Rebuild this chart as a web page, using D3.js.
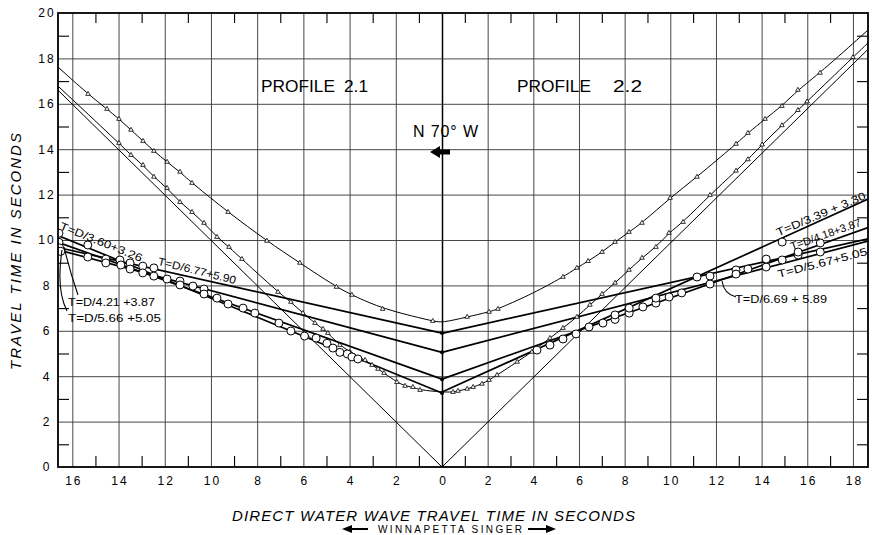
<!DOCTYPE html>
<html><head><meta charset="utf-8">
<script src="https://cdn.jsdelivr.net/npm/d3@7"></script>
<style>
html,body{margin:0;padding:0;background:#fff;}
svg{display:block;}
text{font-family:"Liberation Sans",Arial,sans-serif;fill:#000;}
</style></head><body>
<svg id="chart" width="872" height="535"></svg>
<script>
// ---------------- DATA ----------------
const xMajorTicks = [-16,-14,-12,-10,-8,-6,-4,-2,0,2,4,6,8,10,12,14,16,18];
const xMinorTicks = [-15,-13,-11,-9,-7,-5,-3,-1,1,3,5,7,9,11,13,15,17];
const yMajorTicks = [0,2,4,6,8,10,12,14,16,18,20];
const yMinorTicks = [1,3,5,7,9,11,13,15,17,19];

// direct water wave (T = direct time)
const directWave = [[-16.62,16.6],[0,0],[18.66,18.4]];

// reflection curve A (upper hyperbola) – picked points (triangles)
const reflAPicks = [
  [-15.32,16.43],[-14.50,15.77],[-13.98,15.33],[-13.46,14.85],[-12.94,14.36],[-12.47,13.92],
  [-11.90,13.44],[-11.34,13.00],[-10.82,12.51],[-9.26,11.23],[-7.58,9.96],[-6.15,8.99],
  [-4.57,7.93],[-3.90,7.58],[-2.57,6.96],[-0.40,6.43],
  [1.10,6.61],[2.06,6.83],[2.45,6.96],[5.30,8.37],[5.91,8.77],[6.40,9.07],[7.01,9.47],
  [7.58,9.91],[8.19,10.35],[8.76,10.75],[9.99,11.85],[11.17,12.78],[12.88,14.23],[13.40,14.71],
  [14.15,15.33],[14.89,15.90],[15.59,16.61],[16.56,17.36]
];
const reflATrace = [[-16.62,17.62],[0,6.35],[4.0,7.65],[18.66,19.25]];

// reflection curve B (lower hyperbola)
const reflBPicks = [
  [-13.98,14.27],[-13.46,13.74],[-12.94,13.30],[-12.47,12.78],[-11.90,12.29],[-11.34,11.67],
  [-10.82,11.23],[-10.30,10.75],[-9.74,10.13],[-9.22,9.69],[-8.66,9.16],[-7.10,7.71],[-6.54,7.27],
  [-6.02,6.78],[-5.50,6.34],[-5.15,6.08],[-4.94,5.90],[-4.42,5.37],[-3.98,5.07],[-3.33,4.71],
  [-3.03,4.49],[-2.77,4.32],[-2.51,4.14],[-1.95,3.74],[-1.60,3.57],[-1.26,3.52],[-0.95,3.39],
  [0.48,3.30],[0.70,3.35],[1.10,3.44],[1.36,3.52],[1.75,3.66],[2.06,3.83],[2.41,4.05],[3.29,4.63],
  [3.94,5.07],[4.73,5.68],[5.30,6.12],[5.91,6.61],[6.48,7.14],[7.01,7.62],[7.58,8.11],[8.19,8.68],
  [8.76,9.21],[9.37,9.69],[9.94,10.31],[10.56,10.79],[11.74,11.98],[12.88,13.05],[13.40,13.55],
  [14.02,14.2],[14.89,15.05],[15.59,15.72],[15.99,16.1],[18.0,18.05]
];
const reflBTrace = [[-16.62,16.78],[0,3.30],[18.66,18.68]];

// refraction fits, profile 2.1 (left) and 2.2 (right)
const leftLabels = ["T=D/3.60+3.26","T=D/4.21  +3.87","T=D/5.66 +5.05","T=D/6.77+5.90"];
const leftT0     = [3.26, 3.87, 5.05, 5.90];
const leftTEdge  = [10.2, 9.9, 9.57, 9.67];
const rightLabels = ["T=D/3.39 + 3.30","T=D/4.18+3.87","T=D/5.67+5.05","T=D/6.69 + 5.89"];
const rightT0     = [3.30, 3.87, 5.05, 5.89];
const rightTEdge  = [11.8, 10.55, 9.95, 10.05];
const xLeftEdge = -16.62, xRightEdge = 18.66;

// first arrivals (open circles)
const circlesLeft = [
  [-16.58,10.3],[-16.58,9.9],[-16.55,9.65],[-16.5,9.5],[-15.33,9.78],[-15.33,9.25],
  [-14.55,9.16],[-14.55,8.99],[-13.94,9.12],[-13.9,8.9],[-13.5,8.99],[-13.5,8.72],
  [-12.95,8.85],[-12.95,8.55],[-12.47,8.77],[-12.47,8.41],[-11.9,8.28],[-11.34,8.19],
  [-11.34,8.02],[-10.78,7.97],[-10.3,7.84],[-10.3,7.62],[-9.74,7.44],[-9.26,7.18],
  [-8.61,7.0],[-8.1,6.78],[-7.06,6.34],[-6.54,5.99],[-5.95,5.77],[-5.45,5.68],
  [-4.98,5.45],[-4.72,5.24],[-4.42,5.05],[-4.1,4.98],[-3.9,4.85],[-3.64,4.76]
];
const circlesRight = [
  [4.16,5.15],[4.73,5.37],[5.3,5.64],[5.87,5.86],[6.44,6.17],[7.05,6.34],[7.58,6.5],[7.58,6.7],
  [8.2,6.78],[8.2,7.0],[8.8,7.05],[9.37,7.22],[9.37,7.44],[9.95,7.49],[10.5,7.67],[11.17,8.37],
  [11.74,8.41],[11.74,8.06],[12.88,8.68],[12.88,8.5],[13.4,8.72],[14.2,8.81],[14.2,9.16],
  [14.9,9.91],[14.9,9.12],[15.6,9.34],[15.6,9.47],[16.57,9.87],[16.57,9.47]
];

const profileNames = ["PROFILE","PROFILE"];
const profileNums = ["2.1","2.2"];
const bearing = "N 70° W";
const xTitle = "DIRECT WATER WAVE TRAVEL TIME IN SECONDS";
const yTitle = "TRAVEL TIME IN SECONDS";
const shipName = "WINNAPETTA  SINGER";

// ---------------- CHART ----------------
const svg = d3.select("#chart");
const L = 58, R = 868, T = 13, B = 467;
const x = d3.scaleLinear().domain([xLeftEdge, 0, xRightEdge]).range([L, 442, R]);
const y = d3.scaleLinear().domain([0, 20]).range([B, T]);

svg.append("rect").attr("width",872).attr("height",535).attr("fill","#fff");

const defs = svg.append("defs");
defs.append("clipPath").attr("id","plot").append("rect")
  .attr("x",L).attr("y",T).attr("width",R-L).attr("height",B-T);

// grid
const grid = svg.append("g");
grid.append("g").attr("transform",`translate(0,${B})`)
  .call(d3.axisBottom(x).tickValues(xMajorTicks).tickSize(-(B-T)).tickFormat(""))
  .call(g=>g.select(".domain").remove())
  .call(g=>g.selectAll("line").attr("stroke",d=>d===0?"#000":"#333").attr("stroke-width",d=>d===0?1.5:0.9));
grid.append("g").attr("transform",`translate(${L},0)`)
  .call(d3.axisLeft(y).tickValues(yMajorTicks.filter(v=>v>0&&v<20)).tickSize(-(R-L)).tickFormat(""))
  .call(g=>g.select(".domain").remove())
  .call(g=>g.selectAll("line").attr("stroke","#333").attr("stroke-width",0.9));

// minor ticks (all four sides)
const minor = svg.append("g").attr("stroke","#000");
minor.append("g").attr("transform",`translate(0,${B})`)
  .call(d3.axisBottom(x).tickValues(xMinorTicks).tickSize(-11).tickFormat(""))
  .call(g=>g.select(".domain").remove());
minor.append("g").attr("transform",`translate(0,${T})`)
  .call(d3.axisTop(x).tickValues(xMinorTicks).tickSize(-10).tickFormat(""))
  .call(g=>g.select(".domain").remove());
minor.append("g").attr("transform",`translate(${L},0)`)
  .call(d3.axisLeft(y).tickValues(yMinorTicks).tickSize(-11).tickFormat(""))
  .call(g=>g.select(".domain").remove());
minor.append("g").attr("transform",`translate(${R},0)`)
  .call(d3.axisRight(y).tickValues(yMinorTicks).tickSize(-11).tickFormat(""))
  .call(g=>g.select(".domain").remove());
minor.selectAll("line").attr("stroke","#000").attr("stroke-width",1.1);

// tick labels
const xl = svg.append("g").attr("transform",`translate(0,${B})`)
  .call(d3.axisBottom(x).tickValues(xMajorTicks).tickSize(0).tickPadding(9).tickFormat(d=>Math.abs(d)));
xl.select(".domain").remove();
xl.selectAll("text").attr("font-size",12).attr("font-family","Liberation Sans, Arial, sans-serif")
  .attr("letter-spacing","2px").attr("dx","1px").attr("fill","#000");

const yl = svg.append("g").attr("transform",`translate(47,0)`)
  .call(d3.axisLeft(y).tickValues(yMajorTicks).tickSize(0).tickPadding(0));
yl.select(".domain").remove();
yl.selectAll("text").attr("text-anchor","middle").attr("font-size",12)
  .attr("font-family","Liberation Sans, Arial, sans-serif").attr("letter-spacing","2px").attr("fill","#000");

// curves
const plot = svg.append("g").attr("clip-path","url(#plot)");
const lineLin = d3.line().x(d=>x(d[0])).y(d=>y(d[1]));
const lineSmooth = d3.line().x(d=>x(d[0])).y(d=>y(d[1])).curve(d3.curveBasis);

plot.append("path").datum(directWave).attr("d",lineLin)
  .attr("fill","none").attr("stroke","#000").attr("stroke-width",1);

const byX = (a,b)=>a[0]-b[0];
[[reflAPicks,reflATrace],[reflBPicks,reflBTrace]].forEach(([picks,trace])=>{
  const pts = picks.concat(trace).sort(byX);
  plot.append("path").datum(pts).attr("d",lineSmooth)
    .attr("fill","none").attr("stroke","#000").attr("stroke-width",1);
});

// refraction lines
leftT0.forEach((t0,i)=>{
  plot.append("path").datum([[xLeftEdge,leftTEdge[i]],[0,t0]]).attr("d",lineLin)
    .attr("fill","none").attr("stroke","#000").attr("stroke-width",1.7);
});
rightT0.forEach((t0,i)=>{
  plot.append("path").datum([[0,t0],[xRightEdge,rightTEdge[i]]]).attr("d",lineLin)
    .attr("fill","none").attr("stroke","#000").attr("stroke-width",1.7);
});

// vertex dots at x=0
plot.selectAll("circle.vtx").data(leftT0).join("circle")
  .attr("cx",x(0)).attr("cy",d=>y(d)).attr("r",2).attr("fill","#000");

// triangle markers
const tri = d3.symbol().type(d3.symbolTriangle).size(9);
plot.selectAll("path.tri").data(reflAPicks.concat(reflBPicks)).join("path")
  .attr("transform",d=>`translate(${x(d[0])},${y(d[1])})`).attr("d",tri)
  .attr("fill","#fff").attr("stroke","#000").attr("stroke-width",0.8);

// circles
plot.selectAll("circle.obs").data(circlesLeft.concat(circlesRight)).join("circle")
  .attr("cx",d=>x(d[0])).attr("cy",d=>y(d[1])).attr("r",4)
  .attr("fill","#fff").attr("stroke","#000").attr("stroke-width",1);

// frame
svg.append("rect").attr("x",L).attr("y",T).attr("width",R-L).attr("height",B-T)
  .attr("fill","none").attr("stroke","#000").attr("stroke-width",1.8);

// ---------------- TEXT ----------------
const lblFont = 11;
function rotLabel(txt, cx, cy, ang, len){
  svg.append("text").attr("transform",`translate(${cx},${cy}) rotate(${ang})`)
    .attr("text-anchor","middle").attr("font-size",lblFont).attr("dy","0.35em")
    .attr("textLength",len).attr("lengthAdjust","spacingAndGlyphs").text(txt);
}
rotLabel(leftLabels[0], x(-14.75), y(9.92), 22, 88);
rotLabel(leftLabels[3], x(-10.6), y(8.65), 14, 80);
rotLabel(rightLabels[0], x(16.6), y(11.15), -23, 96);
rotLabel(rightLabels[1], x(16.8), y(10.25), -19.5, 74);
rotLabel(rightLabels[2], x(16.66), y(9.0), -14.5, 92);

function hLabel(txt, x0, yb, len){
  svg.append("text").attr("x",x0).attr("y",yb).attr("font-size",lblFont)
    .attr("textLength",len).attr("lengthAdjust","spacingAndGlyphs").text(txt);
}
hLabel(leftLabels[1], 68, 306, 87);
hLabel(leftLabels[2], 68, 322, 93);
hLabel(rightLabels[3], 735, 303, 92);

// leaders
const lead = svg.append("g").attr("fill","none").attr("stroke","#000").attr("stroke-width",1.1);
lead.append("path").attr("d","M78,295 Q70,272 64,247");
lead.append("path").attr("d","M67,311 Q56,290 62,250");
lead.append("path").attr("d","M736,297 Q724,294 722,281");

// profile titles
function title(txt, x0, len){
  svg.append("text").attr("x",x0).attr("y",92).attr("font-size",17)
    .attr("textLength",len).attr("lengthAdjust","spacingAndGlyphs").text(txt);
}
title(profileNames[0], 261, 74);
title(profileNums[0], 344, 24);
title(profileNames[1], 517, 74);
title(profileNums[1], 613, 29);

// bearing + arrow
svg.append("text").attr("x",413).attr("y",137).attr("font-size",16).attr("textLength",65).attr("lengthAdjust","spacing").text(bearing);
const ax0 = x(0);
svg.append("path").attr("d",`M${ax0-12},152 L${ax0-2},146 L${ax0-2},149.5 L${ax0+8},149.5 L${ax0+8},154.5 L${ax0-2},154.5 L${ax0-2},158 Z`).attr("fill","#000");

// axis titles
svg.append("text").attr("x",232).attr("y",521).attr("font-size",15).attr("font-style","italic")
  .attr("textLength",403).attr("lengthAdjust","spacing").text(xTitle);
svg.append("text").attr("transform","translate(21,370) rotate(-90)").attr("font-size",15).attr("font-style","italic")
  .attr("textLength",237).attr("lengthAdjust","spacing").text(yTitle);

// ship line
svg.append("text").attr("x",378).attr("y",533).attr("font-size",10)
  .attr("textLength",144).attr("lengthAdjust","spacing").text(shipName);
const arr = svg.append("g").attr("fill","#000");
arr.append("path").attr("d","M342,529 L352,525 L352,528 L368,528 L368,530 L352,530 L352,533 Z");
arr.append("path").attr("d","M556,529 L546,525 L546,528 L528,528 L528,530 L546,530 L546,533 Z");
</script>
</body></html>
